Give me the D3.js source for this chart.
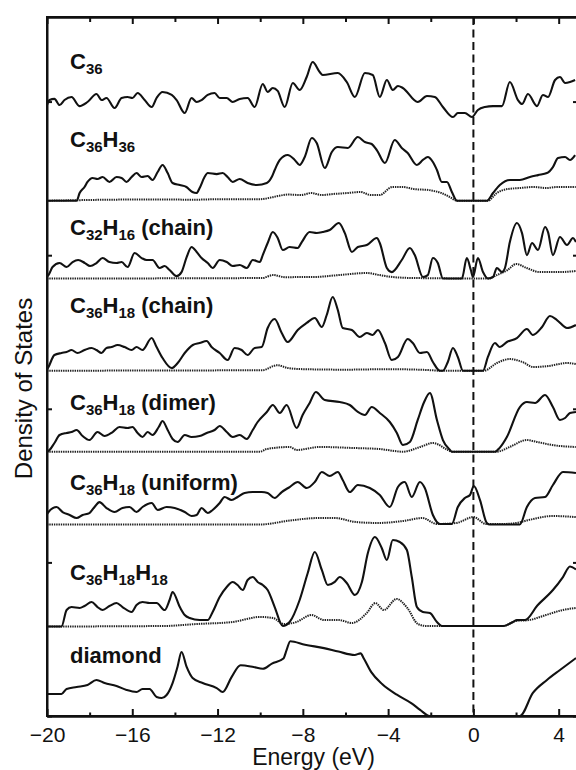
<!DOCTYPE html>
<html>
<head>
<meta charset="utf-8">
<script src="https://cdn.jsdelivr.net/npm/d3@7"></script>
<style>
  html, body { margin: 0; padding: 0; background: #fff; }
  svg { display: block; }
  text { font-family: "Liberation Sans", Arial, Helvetica, sans-serif; fill: #111; }
</style>
</head>
<body>
<svg id="chart" width="576" height="770"></svg>
<script>
// ---- axis ticks ----
const energyTicks = [-20, -16, -12, -8, -4, 0, 4];
const energyMinorTicks = [-18, -14, -10, -6, -2, 2];
const dosTicks = [0, 150, 300, 450, 600];

// ---- panels, top to bottom ----
const panelLabels = [
  "C_{36}",
  "C_{36}H_{36}",
  "C_{32}H_{16} (chain)",
  "C_{36}H_{18} (chain)",
  "C_{36}H_{18} (dimer)",
  "C_{36}H_{18} (uniform)",
  "C_{36}H_{18}H_{18}",
  "diamond"
];
// vertical offset of each spectrum (arbitrary DOS units)
const panelOffsets = [570, 503.2, 427.2, 337.2, 258.1, 187, 87.4, 0];

// total DOS [energy (eV), DOS]
const totalC36 = [[-20,26.6],[-19.88,31.5],[-19.65,32.6],[-19.41,26.6],[-19.18,31.5],[-18.85,34.5],[-18.48,25.6],[-18.1,29.6],[-17.68,37.4],[-17.44,31.5],[-17.21,33.5],[-16.83,23.7],[-16.5,33.5],[-16.22,34.5],[-15.99,33.5],[-15.75,38.4],[-15.42,31.5],[-15.09,24.7],[-14.86,33.5],[-14.58,39.4],[-14.15,36.5],[-13.92,31.5],[-13.54,18.8],[-13.22,33.5],[-12.98,29.6],[-12.75,31.5],[-12.46,36.5],[-12.14,38.4],[-11.9,33.5],[-11.57,33.5],[-11.29,29.6],[-10.96,32.6],[-10.59,33.5],[-10.26,24.7],[-9.88,47.2],[-9.65,39.4],[-9.41,43.3],[-9.18,40.4],[-8.85,24.7],[-8.47,48.2],[-8.15,41.3],[-7.82,54],[-7.54,68.6],[-7.21,58.9],[-7.07,56],[-6.36,57.9],[-5.94,49.1],[-5.56,34.5],[-5.09,57.9],[-4.72,56],[-4.39,34.5],[-4.06,51.1],[-3.78,41.3],[-3.54,45.2],[-3.31,43.3],[-2.61,29.6],[-2.18,35.5],[-1.81,34.5],[-1.43,24.7],[-0.96,14.9],[-0.73,18.8],[-0.4,18.8],[-0.07,14.9],[0.21,21.8],[0.54,24.7],[0.92,25.6],[1.34,25.6],[1.71,49.1],[2.09,31.5],[2.28,27.6],[2.56,37.4],[2.98,25.6],[3.26,36.5],[3.5,34.5],[3.83,51.1],[4.06,54],[4.3,48.2],[4.53,49.1],[4.77,51.1]];

const totalC36H36 = [[-20,0],[-18.61,0],[-18.47,7.5],[-18.24,13.4],[-18.1,18.3],[-17.86,22.2],[-17.63,21.2],[-17.39,23.1],[-17.07,18.3],[-16.74,23.1],[-16.5,22.2],[-16.27,18.3],[-16.03,23.1],[-15.8,27],[-15.56,23.1],[-15.28,24.1],[-15.05,20.2],[-14.81,28],[-14.58,34.9],[-14.34,27],[-14.11,17.3],[-13.77,15.3],[-13.46,13.4],[-13.18,8.5],[-12.99,7.5],[-12.84,12.4],[-12.61,23.1],[-12.46,27],[-12.04,26],[-11.76,27],[-11.53,23.1],[-11.29,18.3],[-10.96,21.2],[-10.59,17.3],[-10.16,15.3],[-9.69,17.3],[-9.46,23.1],[-9.32,30],[-9.08,39.8],[-8.71,44.6],[-8.38,39.8],[-8.15,34.9],[-7.91,42.7],[-7.58,61.2],[-7.35,56.3],[-6.97,31.9],[-6.64,47.6],[-6.36,52.4],[-5.89,51.5],[-5.42,62.2],[-5.09,57.3],[-4.77,55.4],[-4.53,49.5],[-4.15,36.8],[-3.69,59.3],[-3.36,51.5],[-3.08,46.6],[-2.65,34.9],[-2.37,39.8],[-2.14,42.7],[-1.9,37.8],[-1.71,30],[-1.48,18.3],[-1.24,18.3],[-1.01,8.5],[-0.77,0],[0.63,0],[0.92,7.5],[1.24,15.3],[1.71,20.2],[2.18,20.2],[2.65,23.1],[3.03,25],[3.45,27],[3.73,32.9],[3.97,41.7],[4.3,42.7],[4.53,39.8],[4.77,44.6]];

const totalC32H16 = [[-20,2],[-19.93,3.4],[-19.74,11.2],[-19.41,15.1],[-19.08,11.2],[-18.8,16.1],[-18.54,18.1],[-18.22,15.1],[-17.98,12.2],[-17.68,15.1],[-17.39,20],[-17.07,16.1],[-16.74,15.1],[-16.5,16.1],[-16.22,11.2],[-15.89,24.9],[-15.56,20],[-15.33,18.1],[-15.05,18.1],[-14.72,10.3],[-14.48,12.2],[-14.25,8.3],[-13.92,2.4],[-13.69,6.3],[-13.45,20.9],[-13.22,30.8],[-12.98,25.9],[-12.75,20],[-12.46,15.1],[-12.23,10.3],[-11.9,18.1],[-11.57,16.1],[-11.29,12.2],[-10.96,13.2],[-10.63,10.3],[-10.35,18.1],[-10.02,16.1],[-9.88,22.9],[-9.65,34.7],[-9.41,45.4],[-9.18,39.6],[-8.94,27.8],[-8.62,30.8],[-8.24,29.8],[-8.05,35.6],[-7.68,45.4],[-7.35,44.4],[-7.07,45.4],[-6.74,47.4],[-6.31,54.2],[-6.03,44.4],[-5.7,25.9],[-5.42,30.8],[-5,32.7],[-4.53,39.6],[-4.39,34.7],[-4.06,10.3],[-3.83,6.3],[-3.36,18.1],[-2.98,29.8],[-2.75,22.9],[-2.37,1.5],[-2.14,3.4],[-1.9,20],[-1.67,15.1],[-1.43,0],[-0.54,0],[-0.31,20],[-0.12,8.3],[-0.02,1.5],[0.21,20],[0.45,6.3],[0.68,0],[0.92,1.5],[1.1,10.3],[1.34,6.3],[1.48,10.3],[1.71,35.6],[2.04,54.2],[2.28,44.4],[2.51,22.9],[2.75,34.7],[3.03,27.8],[3.36,50.3],[3.5,45.4],[3.73,22.9],[4.06,40.5],[4.39,32.7],[4.67,39.6],[4.81,35.6]];

const totalC36H18Chain = [[-20,1],[-19.93,3.6],[-19.65,15.3],[-19.32,17.3],[-19.08,18.3],[-18.85,20.2],[-18.57,17.3],[-18.24,20.2],[-17.91,22.2],[-17.68,20.2],[-17.44,17.3],[-17.21,22.2],[-16.97,23.1],[-16.69,25.1],[-16.36,23.1],[-16.03,20.2],[-15.8,23.1],[-15.52,20.2],[-15.09,32],[-14.86,23.1],[-14.58,12.4],[-14.15,2.6],[-13.87,7.5],[-13.54,17.3],[-13.16,25.1],[-12.84,27],[-12.51,29],[-12.28,23.1],[-11.9,17.3],[-11.53,10.4],[-11.2,22.2],[-10.87,20.2],[-10.59,15.3],[-10.26,22.2],[-9.93,23.1],[-9.65,41.7],[-9.32,50.5],[-8.99,36.8],[-8.71,28],[-8.24,39.8],[-7.82,46.6],[-7.44,51.5],[-7.11,42.7],[-6.88,54.4],[-6.6,71.9],[-6.36,59.3],[-6.13,41.7],[-5.7,39.8],[-5.33,32.9],[-5,36.8],[-4.72,34.9],[-4.48,39.8],[-4.15,27],[-3.83,10.4],[-3.54,13.4],[-3.08,30.9],[-2.84,27],[-2.51,17.3],[-2.18,18.3],[-1.9,8.5],[-1.57,0],[-1.43,0],[-1.2,8.5],[-0.96,22.2],[-0.73,13.4],[-0.49,0],[0.45,0],[0.68,13.4],[1.01,27],[1.24,23.1],[1.57,28],[2.04,31.9],[2.51,40.7],[2.79,34.9],[3.22,42.7],[3.59,53.4],[3.92,49.5],[4.39,41.7],[4.81,44.6]];

const totalC36H18Dimer = [[-20,0],[-19.93,0.7],[-19.65,8.5],[-19.41,16.3],[-19.08,18.3],[-18.85,19.2],[-18.61,21.2],[-18.33,15.3],[-18.01,11.4],[-17.63,19.2],[-17.3,15.3],[-16.92,19.2],[-16.6,24.1],[-16.22,23.1],[-15.99,24.1],[-15.75,18.3],[-15.52,14.4],[-15.28,19.2],[-15.05,16.3],[-14.76,24.1],[-14.58,30],[-14.34,21.2],[-14.11,12.4],[-13.87,9.5],[-13.54,16.3],[-13.22,14.4],[-12.84,15.3],[-12.51,18.3],[-12.14,21.2],[-11.9,25.1],[-11.57,19.2],[-11.29,14.4],[-10.96,16.3],[-10.63,12.4],[-10.35,21.2],[-10.12,29],[-9.69,38.8],[-9.41,45.6],[-9.08,37.8],[-8.76,45.6],[-8.29,23.1],[-8.01,35.8],[-7.68,47.6],[-7.39,58.3],[-6.97,50.5],[-6.27,48.5],[-5.8,45.6],[-5.42,38.8],[-5.09,35.8],[-4.77,43.6],[-4.39,37.8],[-3.92,29],[-3.59,18.3],[-3.31,6.5],[-2.98,9.5],[-2.61,31],[-2.32,48],[-2.04,57.3],[-1.71,30.9],[-1.43,11.4],[-1.1,1.7],[-1.01,0],[1.01,0],[1.24,4],[1.57,14.4],[2.18,43.6],[2.51,48.5],[2.89,47.6],[3.36,55.4],[3.73,43.6],[4.06,31],[4.3,32.9],[4.53,37.8],[4.81,38.8]];

const totalC36H18Uniform = [[-20,10],[-19.93,12.2],[-19.55,17.1],[-19.27,12.2],[-18.94,9.3],[-18.61,6.3],[-18.33,9.3],[-18.01,11.2],[-17.77,17.1],[-17.54,21.9],[-17.21,16.1],[-16.83,12.2],[-16.46,16.1],[-16.13,17.1],[-15.8,12.2],[-15.52,17.1],[-15.09,21],[-14.81,14.2],[-14.39,17.1],[-14.01,16.1],[-13.54,12.2],[-13.22,8.3],[-12.98,9.3],[-12.75,16.1],[-12.46,11.2],[-12.23,14.2],[-11.9,21],[-11.67,26.9],[-11.34,23.9],[-11.06,26.9],[-10.73,30.8],[-10.35,31.7],[-9.93,31.7],[-9.65,30.8],[-9.32,25.9],[-8.99,31.7],[-8.62,36.6],[-8.24,41.5],[-7.82,35.6],[-7.44,41.5],[-7.11,51.3],[-6.74,47.4],[-6.36,51.3],[-6.13,43.5],[-5.8,31.7],[-5.42,38.6],[-4.86,35.6],[-4.39,28.8],[-3.92,17.1],[-3.54,36.6],[-3.22,41.5],[-2.89,26.9],[-2.51,41.5],[-2.28,35.6],[-1.9,9.3],[-1.57,0.5],[-1.01,0.5],[-0.73,17.1],[-0.4,25.9],[-0.16,28.8],[0.02,37.6],[0.31,23.9],[0.63,1.5],[0.77,0],[2.18,0],[2.51,17.1],[2.89,25.9],[3.36,26.9],[3.73,38.6],[4.2,51.3],[4.81,50.3]];

const totalC36H18H18 = [[-20,0],[-19.32,0],[-19.08,16.1],[-18.85,19],[-18.47,18.1],[-18.24,20],[-17.91,23.9],[-17.63,19],[-17.39,16.1],[-17.07,20],[-16.74,22.9],[-16.46,19],[-16.03,14.2],[-15.8,21],[-15.52,23.9],[-15.19,22.9],[-14.86,22.9],[-14.48,16.1],[-14.25,25.9],[-14.11,33.7],[-13.77,19],[-13.54,11.2],[-13.31,8.3],[-12.84,6.3],[-12.46,6.3],[-12.23,14.2],[-11.9,28.8],[-11.57,38.6],[-11.29,43.5],[-11.06,40.5],[-10.82,35.6],[-10.59,45.4],[-10.35,48.3],[-10.12,43.5],[-9.88,40.5],[-9.65,35.6],[-9.32,19],[-8.94,0.5],[-8.62,4.4],[-8.15,25.9],[-7.77,52.2],[-7.44,72.8],[-7.11,55.2],[-6.83,40.5],[-6.5,43.5],[-6.27,48.3],[-5.94,42.5],[-5.56,30.8],[-5.23,43.5],[-4.95,71.8],[-4.62,87.4],[-4.3,76.7],[-4.06,64.9],[-3.78,84.5],[-3.45,82.5],[-3.12,74.7],[-2.89,48.3],[-2.65,19],[-2.37,14.2],[-2.04,13.2],[-1.71,4.4],[-1.48,0.5],[1.39,0.5],[1.86,4.4],[2.04,6.3],[2.42,6.3],[3.0,20.5],[3.73,35.6],[4.2,48.3],[4.53,58.6],[4.81,55.7]];

const totalDiamond = [[-20,21.5],[-19.32,21.5],[-19.08,26.4],[-18.61,28.3],[-18.1,30.3],[-17.68,35.2],[-17.3,32.2],[-16.74,29.3],[-16.27,25.4],[-15.8,23.4],[-15.52,26.4],[-15.19,26.4],[-14.86,18.6],[-14.62,17.6],[-14.39,20.5],[-14.11,32.2],[-13.88,47.9],[-13.69,62.5],[-13.45,47.9],[-13.17,37.1],[-12.7,32.2],[-12.04,27.3],[-11.76,23.4],[-11.35,37.7],[-10.92,49.5],[-10.31,47.8],[-9.88,46.1],[-9.45,51.2],[-8.91,56.2],[-8.76,64.6],[-8.59,73],[-7.9,69.6],[-7.01,66.3],[-6.33,62.9],[-5.57,59.6],[-5.29,61.2],[-5.14,56.2],[-4.79,42.8],[-4.27,31],[-3.59,20.8],[-2.9,12.4],[-2.5,6],[-2.05,0],[2.18,0],[2.79,22.5],[3.45,35.2],[4.06,44.9],[4.81,56.6]];

// hydrogen-projected DOS (dotted)
const hydrogenC36H36 = [[-20,0],[-18.6,0.5],[-17,1],[-15,1.2],[-13,1],[-12,1.5],[-10,1.5],[-9.3,4],[-8.7,6],[-8.1,5.5],[-7.6,7.5],[-7.1,5.5],[-6.6,6.5],[-5.9,7.5],[-5.3,8.5],[-4.8,5.5],[-4.4,5.5],[-3.8,13.4],[-3.3,13.4],[-2.8,11.4],[-2.1,10.4],[-1.5,7.5],[-1.1,3.5],[-0.77,0],[0.68,0],[1.1,7.5],[1.6,11.4],[2.2,12.4],[2.8,13.4],[3.45,12.4],[3.9,13.4],[4.5,13.4],[4.8,13.4]];
const hydrogenC32H16 = [[-20,0],[-9.9,0.5],[-9.4,3.4],[-8.8,1.2],[-8.2,1.5],[-7.5,1.5],[-6.3,3.4],[-5,5.4],[-4.4,3.4],[-3.8,1.5],[-2.8,0.5],[0.7,0],[1.1,3.4],[1.6,8.3],[2.0,14.2],[2.5,10.3],[3.1,6.3],[4.0,6.3],[4.8,7.3]];
const hydrogenC36H18Chain = [[-20,0],[-9.9,0.5],[-9.2,5.4],[-8.7,2.6],[-8,1.5],[-6,1],[-4,1.5],[-2,0.5],[-1.6,0],[0.5,0],[1.1,7.5],[1.7,11.4],[2.3,8.5],[2.8,3.6],[3.5,4.5],[4.4,7.5],[4.8,6.5]];
const hydrogenC36H18Dimer = [[-20,0],[-10,0],[-9.7,2.6],[-8.6,4.6],[-8.3,1.7],[-7.2,4.6],[-5.6,3.6],[-4.4,2.6],[-3.3,0],[-2.5,4.6],[-1.9,8.5],[-1.2,1.7],[-1.0,0],[1.1,0],[1.7,4.6],[2.5,11.4],[3.0,9.5],[3.7,6.5],[4.8,4.6]];
const hydrogenC36H18Uniform = [[-20,0],[-10,0],[-8.6,3.9],[-7.3,6.3],[-6.5,6.3],[-5.5,2.4],[-4.5,1.5],[-3.3,3.4],[-2.4,6.3],[-1.7,0.5],[-0.8,1.5],[0,7.3],[0.6,0.5],[1.4,0.5],[2.0,1.5],[2.8,5.4],[3.7,8.3],[4.8,7.3]];
const hydrogenC36H18H18 = [[-20,0],[-14.5,0.5],[-13,2.4],[-11.3,4.4],[-10,9.3],[-9.4,8.3],[-8.9,2.4],[-8.3,4.4],[-7.6,11.2],[-7.0,6.3],[-6.3,6.3],[-5.7,3.4],[-5.0,13.2],[-4.6,22.9],[-4.2,16.1],[-3.6,26.9],[-3.1,18.1],[-2.6,2.4],[-2.2,0.5],[1.4,0.5],[2.0,5.4],[2.6,6.3],[3.4,11.2],[4.2,16.1],[4.8,18.1]];

const panelTotals = [totalC36, totalC36H36, totalC32H16, totalC36H18Chain, totalC36H18Dimer, totalC36H18Uniform, totalC36H18H18, totalDiamond];
const panelHydrogen = [null, hydrogenC36H36, hydrogenC32H16, hydrogenC36H18Chain, hydrogenC36H18Dimer, hydrogenC36H18Uniform, hydrogenC36H18H18, null];

// ---- layout ----
const frame = { left: 47, right: 580, top: 17, bottom: 716 };
const labelX = 70;
const labelBaselines = [69, 147, 235, 313, 410, 490, 580, 663];

const svg = d3.select("#chart");

const x = d3.scaleLinear().domain([-20, 5]).range([frame.left, frame.right]);
const y = d3.scaleLinear().domain([0, 682.6]).range([frame.bottom, frame.top]);

// monotone interpolation keeps the band gaps flat at zero
const lineFor = offset => d3.line()
  .x(d => x(d[0]))
  .y(d => y(d[1] + offset))
  .curve(d3.curveMonotoneX);

const plot = svg.append("g");

// Fermi level
plot.append("line")
  .attr("x1", x(0)).attr("x2", x(0))
  .attr("y1", frame.top).attr("y2", frame.bottom)
  .attr("stroke", "#111").attr("stroke-width", 2)
  .attr("stroke-dasharray", "8,4.5");

// hydrogen-projected curves (dotted) under total curves
panelHydrogen.forEach((series, i) => {
  if (!series) return;
  plot.append("path")
    .datum(series)
    .attr("d", lineFor(panelOffsets[i]))
    .attr("fill", "none")
    .attr("stroke", "#222")
    .attr("stroke-width", 2)
    .attr("stroke-dasharray", "1.4,0.9");
});

panelTotals.forEach((series, i) => {
  plot.append("path")
    .datum(series)
    .attr("d", lineFor(panelOffsets[i]))
    .attr("fill", "none")
    .attr("stroke", "#111")
    .attr("stroke-width", 2.1)
    .attr("stroke-linejoin", "round");
});

// frame
svg.append("rect")
  .attr("x", frame.left).attr("y", frame.top)
  .attr("width", frame.right - frame.left)
  .attr("height", frame.bottom - frame.top)
  .attr("fill", "none").attr("stroke", "#111").attr("stroke-width", 2);

// axes
const styleAxis = g => {
  g.selectAll(".domain").attr("stroke", "#111").attr("stroke-width", 2);
  g.selectAll(".tick line").attr("stroke", "#111").attr("stroke-width", 2);
};

svg.append("g")
  .attr("transform", `translate(0,${frame.bottom})`)
  .call(d3.axisBottom(x).tickValues(energyTicks).tickSize(-7).tickSizeOuter(0).tickPadding(11))
  .call(styleAxis)
  .call(g => g.selectAll(".tick text")
    .attr("font-size", 21)
    .attr("font-family", "'Liberation Sans', Arial, Helvetica, sans-serif")
    .attr("fill", "#111"));

svg.append("g")
  .attr("transform", `translate(0,${frame.bottom})`)
  .call(d3.axisBottom(x).tickValues(energyMinorTicks).tickSize(-3.5).tickSizeOuter(0).tickFormat(""))
  .call(styleAxis);

svg.append("g")
  .attr("transform", `translate(0,${frame.top})`)
  .call(d3.axisTop(x).tickValues(energyTicks).tickSize(-7).tickSizeOuter(0).tickFormat(""))
  .call(styleAxis);

svg.append("g")
  .attr("transform", `translate(0,${frame.top})`)
  .call(d3.axisTop(x).tickValues(energyMinorTicks).tickSize(-5).tickSizeOuter(0).tickFormat(""))
  .call(styleAxis);

svg.append("g")
  .attr("transform", `translate(${frame.left},0)`)
  .call(d3.axisLeft(y).tickValues(dosTicks).tickSize(-5).tickSizeOuter(0).tickFormat(""))
  .call(styleAxis);

svg.append("g")
  .attr("transform", `translate(${frame.right},0)`)
  .call(d3.axisRight(y).tickValues(dosTicks).tickSize(-7).tickSizeOuter(0).tickFormat(""))
  .call(styleAxis);

// axis titles
svg.append("text")
  .attr("x", (frame.left + frame.right) / 2)
  .attr("y", 765)
  .attr("text-anchor", "middle")
  .attr("font-size", 23)
  .text("Energy (eV)");

svg.append("text")
  .attr("transform", `translate(32,${(frame.top + frame.bottom) / 2 + 22}) rotate(-90)`)
  .attr("text-anchor", "middle")
  .attr("font-size", 24)
  .text("Density of States");

// panel labels with subscripts
panelLabels.forEach((label, i) => {
  const t = svg.append("text")
    .attr("x", labelX)
    .attr("y", labelBaselines[i])
    .attr("font-weight", "bold")
    .attr("font-size", 22)
    .style("white-space", "pre");
  const parts = label.split(/_\{(\d+)\}/);
  let lowered = false;
  parts.forEach((p, j) => {
    if (!p) return;
    const isSub = j % 2 === 1;
    const ts = t.append("tspan").text(p).attr("font-size", isSub ? 15 : 22);
    if (isSub && !lowered) { ts.attr("dy", 5); lowered = true; }
    else if (!isSub && lowered) { ts.attr("dy", -5); lowered = false; }
  });
});
</script>
</body>
</html>
